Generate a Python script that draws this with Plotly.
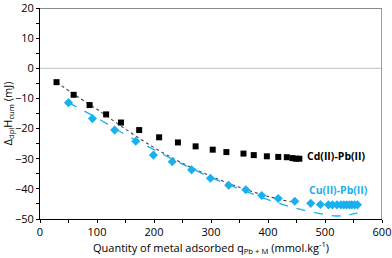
import plotly.graph_objects as go

# Cd(II)-Pb(II) measured points
cd_x = [29, 59, 87, 116, 142, 174, 209, 242, 273, 303, 327, 357, 375, 398, 418, 433, 443, 449, 455]
cd_y = [-4.6, -8.8, -12.2, -15.3, -18.0, -20.5, -22.9, -24.6, -25.9, -27.0, -27.8, -28.3, -28.8, -29.2, -29.4, -29.5, -29.8, -30.0, -30.0]

# Cu(II)-Pb(II) measured points
cu_x = [50, 92, 131, 168, 199, 232, 266, 299, 331, 361, 389, 418, 447, 475, 492,
        506, 513, 521, 528, 533, 538, 543, 547, 552, 557]
cu_y = [-11.4, -16.7, -20.5, -24.2, -28.8, -31.0, -33.7, -36.5, -38.8, -40.3, -42.2, -43.2, -44.1, -44.8, -45.2,
        -45.3, -45.3, -45.3, -45.3, -45.3, -45.3, -45.3, -45.3, -45.3, -45.3]

# Trend line for Cd(II)-Pb(II) (dotted)
cd_fit_x = [29, 60, 100, 150, 200, 250, 300, 350, 400, 440]
cd_fit_y = [-4.6, -8.7, -13.6, -20.2, -26.3, -31.5, -35.8, -39.5, -42.5, -44.3]

# Trend line for Cu(II)-Pb(II) (dashed)
cu_fit_x = [50, 100, 150, 200, 250, 300, 350, 400, 450, 500, 520, 540, 557]
cu_fit_y = [-11.4, -16.5, -22.0, -27.0, -31.8, -36.2, -40.0, -43.6, -46.5, -48.5, -49.0, -48.7, -48.0]

BLUE = "#1AAFEF"
FONT = "Open Sans"

fig = go.Figure()
fig.add_trace(go.Scatter(x=cd_fit_x, y=cd_fit_y, mode="lines", line=dict(color="#444444", width=1.1, dash="dot"),
                         line_shape="spline", showlegend=False))
fig.add_trace(go.Scatter(x=cu_fit_x, y=cu_fit_y, mode="lines", line=dict(color=BLUE, width=1.3, dash="dash"),
                         line_shape="spline", showlegend=False))
fig.add_trace(go.Scatter(x=cd_x, y=cd_y, mode="markers", marker=dict(symbol="square", size=6, color="#000000"),
                         showlegend=False))
fig.add_trace(go.Scatter(x=cu_x, y=cu_y, mode="markers", marker=dict(symbol="diamond", size=7, color=BLUE),
                         showlegend=False))

# frame lines: zero line, top and right borders
fig.add_shape(type="line", xref="paper", yref="y", x0=0, x1=1, y0=0, y1=0, line=dict(color="#BFBFBF", width=1))
fig.add_shape(type="line", xref="paper", yref="y", x0=0, x1=1, y0=20, y1=20, line=dict(color="#8C8C8C", width=2))
fig.add_shape(type="line", xref="x", yref="paper", x0=600, x1=600, y0=0, y1=1, line=dict(color="#7F7F7F", width=1.5))

fig.add_annotation(x=521, y=-29.1, text="<b>Cd(II)-Pb(II)</b>", showarrow=False, xanchor="center",
                   font=dict(family=FONT, size=10.5, color="#000000"))
fig.add_annotation(x=523, y=-40.3, text="<b>Cu(II)-Pb(II)</b>", showarrow=False, xanchor="center",
                   font=dict(family=FONT, size=10.5, color=BLUE))

axis_common = dict(showgrid=False, zeroline=False, showline=True, linecolor="#000000", linewidth=1,
                   ticks="outside", ticklen=3, tickcolor="#000000", ticklabeloverflow="allow",
                   tickfont=dict(family=FONT, size=11, color="#000000"))

fig.update_xaxes(range=[0, 600], dtick=100, tick0=0,
                 minor=dict(dtick=50, ticks="outside", ticklen=3, tickcolor="#000000"),
                 title=dict(text="Quantity of metal adsorbed q<sub>Pb + M</sub> (mmol.kg<sup>-1</sup>)",
                            font=dict(family=FONT, size=11, color="#000000"), standoff=4),
                 automargin=False, **axis_common)
fig.update_yaxes(range=[-50, 20], dtick=10, tick0=0,
                 minor=dict(dtick=5, ticks="outside", ticklen=3, tickcolor="#000000"),
                 title=dict(text="Δ<sub>dpl</sub>H<sub>cum</sub> (mJ)",
                            font=dict(family=FONT, size=11, color="#000000"), standoff=2),
                 automargin=False, **axis_common)

fig.update_layout(width=392, height=258, margin=dict(l=40, r=10, t=8, b=39),
                  paper_bgcolor="white", plot_bgcolor="white",
                  font=dict(family=FONT, size=11, color="#000000"))

fig.write_html("out.html", config={"displayModeBar": False},
               post_script="document.body.style.margin='0';document.body.style.overflow='hidden';")
